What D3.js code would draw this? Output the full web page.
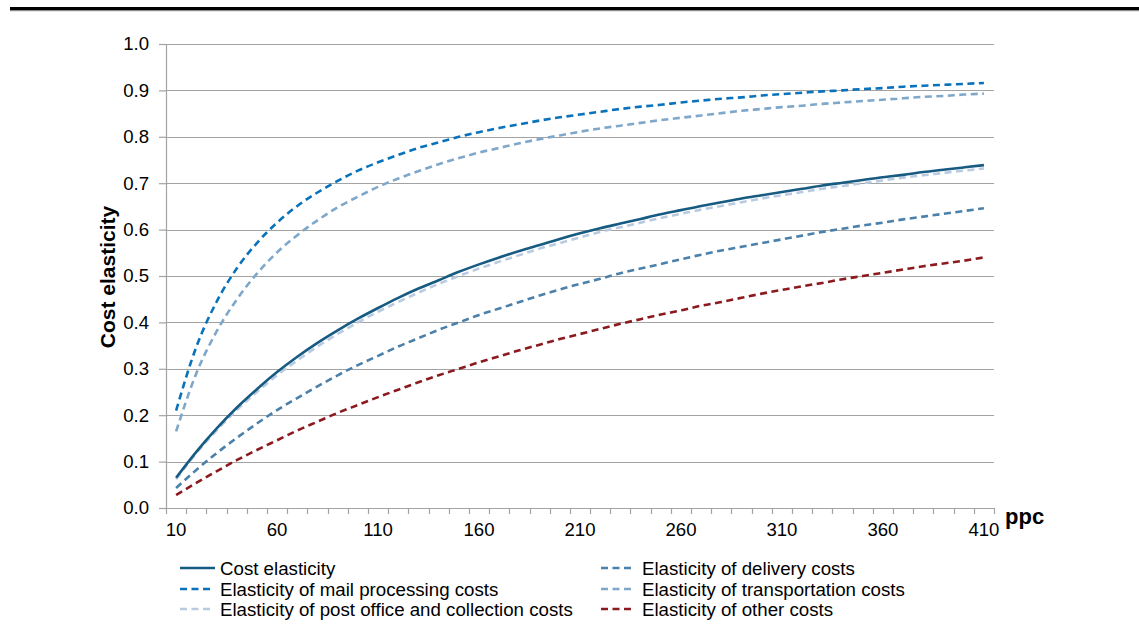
<!DOCTYPE html>
<html><head><meta charset="utf-8">
<script src="https://cdn.jsdelivr.net/npm/d3@7"></script>
<style>
html,body{margin:0;padding:0;background:#fff;}
svg{display:block;font-family:"Liberation Sans",Arial,sans-serif;}
</style></head>
<body><svg id="chart" width="1139" height="635"></svg>
<script>
const categories = [10,20,30,40,50,60,70,80,90,100,110,120,130,140,150,160,170,180,190,200,210,220,230,240,250,260,270,280,290,300,310,320,330,340,350,360,370,380,390,400,410];
const xTickLabels = [10,60,110,160,210,260,310,360,410];
const yTicks = [0,0.1,0.2,0.3,0.4,0.5,0.6,0.7,0.8,0.9,1.0];

const costElasticity = [0.065,0.121,0.171,0.216,0.256,0.293,0.326,0.356,0.383,0.408,0.431,0.453,0.473,0.491,0.509,0.525,0.540,0.554,0.567,0.580,0.592,0.603,0.613,0.623,0.633,0.642,0.651,0.659,0.667,0.674,0.681,0.688,0.695,0.701,0.707,0.713,0.718,0.724,0.729,0.734,0.739];
const mailProcessing = [0.210,0.347,0.444,0.516,0.571,0.615,0.651,0.680,0.705,0.727,0.745,0.761,0.776,0.788,0.800,0.810,0.819,0.827,0.835,0.842,0.848,0.854,0.860,0.865,0.869,0.874,0.878,0.882,0.885,0.889,0.892,0.895,0.898,0.900,0.903,0.905,0.908,0.910,0.912,0.914,0.916];
const postOffice = [0.062,0.118,0.167,0.211,0.250,0.286,0.318,0.348,0.375,0.400,0.423,0.444,0.464,0.483,0.500,0.516,0.531,0.545,0.559,0.571,0.583,0.595,0.605,0.615,0.625,0.634,0.643,0.651,0.659,0.667,0.674,0.681,0.688,0.694,0.700,0.706,0.712,0.717,0.722,0.727,0.732];
const delivery = [0.043,0.082,0.118,0.151,0.182,0.211,0.237,0.262,0.286,0.308,0.328,0.348,0.366,0.384,0.400,0.416,0.430,0.444,0.458,0.471,0.483,0.494,0.506,0.516,0.526,0.536,0.546,0.555,0.563,0.571,0.579,0.587,0.595,0.602,0.609,0.615,0.622,0.628,0.634,0.640,0.646];
const transportation = [0.165,0.290,0.380,0.449,0.505,0.551,0.588,0.620,0.648,0.671,0.692,0.710,0.726,0.741,0.754,0.766,0.776,0.786,0.795,0.803,0.811,0.818,0.824,0.830,0.836,0.841,0.846,0.851,0.856,0.860,0.864,0.867,0.871,0.874,0.877,0.880,0.883,0.886,0.888,0.891,0.893];
const otherCosts = [0.028,0.054,0.079,0.103,0.125,0.146,0.167,0.186,0.205,0.222,0.239,0.255,0.271,0.286,0.300,0.314,0.327,0.340,0.352,0.364,0.375,0.386,0.397,0.407,0.417,0.426,0.436,0.444,0.453,0.462,0.470,0.478,0.485,0.493,0.500,0.507,0.514,0.521,0.527,0.533,0.540];

const seriesNames = ["Cost elasticity","Elasticity of mail processing costs","Elasticity of post office and collection costs","Elasticity of delivery costs","Elasticity of transportation costs","Elasticity of other costs"];
const seriesValues = [costElasticity, mailProcessing, postOffice, delivery, transportation, otherCosts];
const seriesColors = ["#175a82","#0a72bb","#b9cbe0","#4a80aa","#7ea7ca","#8b1a1f"];
const seriesDash = [null,"7,4.5","7,4.5","7,4.5","7,4.5","7,4.5"];
// draw order (back to front)
const drawOrder = [5,3,2,0,4,1];

const svg = d3.select("#chart");
const L = 166, R = 994, T = 44, B = 508;
const x = d3.scaleBand().domain(categories).range([L, R]).padding(0);
const y = d3.scaleLinear().domain([0,1]).range([B, T]);
const gridColor = "#a3a3a3";

// top rule
svg.append("rect").attr("x",10).attr("y",7).attr("width",1129).attr("height",3).attr("fill","#000");
svg.append("rect").attr("x",10).attr("y",10).attr("width",1129).attr("height",1.2).attr("fill","#8a8a8a");

// gridlines
svg.append("g").selectAll("line").data(yTicks.filter(d=>d>0)).join("line")
  .attr("x1",L).attr("x2",R).attr("y1",d=>Math.round(y(d))+0.5).attr("y2",d=>Math.round(y(d))+0.5)
  .attr("stroke",gridColor).attr("stroke-width",1.2);

// y axis
const yAxis = svg.append("g").attr("transform",`translate(${L},0)`)
  .call(d3.axisLeft(y).tickValues(yTicks).tickFormat(d3.format(".1f")).tickSize(7).tickPadding(10));
yAxis.select(".domain").attr("stroke",gridColor).attr("stroke-width",1.2).attr("d",`M0.5,${B}V${T}`);
yAxis.selectAll(".tick line").attr("stroke",gridColor).attr("stroke-width",1.2);
yAxis.selectAll(".tick text").attr("font-size",18.6).attr("fill","#000").attr("font-family","Liberation Sans, Arial, sans-serif");

// x axis line + ticks at band edges
const edges = categories.map(c=>x(c)).concat([R]);
const xg = svg.append("g");
xg.append("line").attr("x1",L).attr("x2",R).attr("y1",B+0.5).attr("y2",B+0.5).attr("stroke",gridColor).attr("stroke-width",1.2);
xg.selectAll("line.t").data(edges).join("line").attr("class","t")
  .attr("x1",d=>Math.round(d)+0.5).attr("x2",d=>Math.round(d)+0.5).attr("y1",B).attr("y2",B+6)
  .attr("stroke",gridColor).attr("stroke-width",1.2);
xg.selectAll("text").data(xTickLabels).join("text")
  .attr("x",d=>x(d)+x.bandwidth()/2).attr("y",536).attr("text-anchor","middle")
  .attr("font-size",18.6).attr("fill","#000").text(d=>d);

// axis titles
svg.append("text").attr("transform","translate(115,277) rotate(-90)").attr("text-anchor","middle")
  .attr("font-size",21).attr("font-weight","bold").attr("fill","#000").text("Cost elasticity");
svg.append("text").attr("x",1005).attr("y",524).attr("font-size",22).attr("font-weight","bold").attr("fill","#000").text("ppc");

// lines
const line = d3.line().x((d,i)=>x(categories[i])+x.bandwidth()/2).y(d=>y(d)).curve(d3.curveMonotoneX);
svg.append("g").selectAll("path").data(drawOrder).join("path")
  .attr("d",k=>line(seriesValues[k]))
  .attr("fill","none").attr("stroke",k=>seriesColors[k]).attr("stroke-width",2.6)
  .attr("stroke-dasharray",k=>seriesDash[k]);

// legend
const legendPos = [[180,575],[180,596],[180,616],[601,575],[601,596],[601,616]];
const lg = svg.append("g").selectAll("g").data(seriesNames.map((n,i)=>i)).join("g")
  .attr("transform",i=>`translate(${legendPos[i][0]},${legendPos[i][1]})`);
lg.append("line").attr("x1",0).attr("x2",i=>i===0?35:31).attr("y1",-7).attr("y2",-7)
  .attr("stroke",i=>seriesColors[i]).attr("stroke-width",2.6).attr("stroke-dasharray",i=>seriesDash[i]);
lg.append("text").attr("x",i=>i<3?40:41).attr("y",0).attr("font-size",18.7).attr("fill","#000").text(i=>seriesNames[i]);
</script></body></html>
